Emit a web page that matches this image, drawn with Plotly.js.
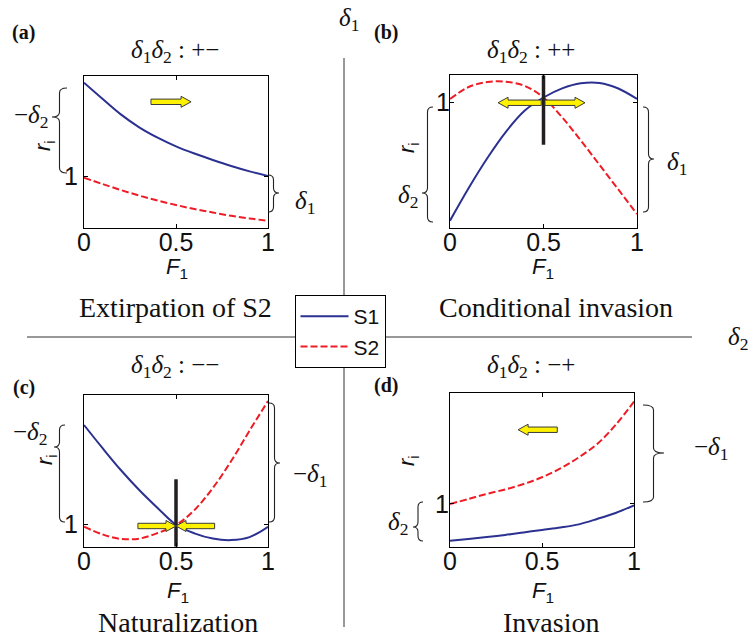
<!DOCTYPE html>
<html>
<head>
<meta charset="utf-8">
<script src="https://cdn.plot.ly/plotly-3.0.1.min.js"></script>
<style>html,body{margin:0;padding:0;background:#fff;}#chart{width:752px;height:638px;}</style>
</head>
<body>
<div id="chart"></div>
<script>
// ---------------- DATA ----------------
const F1 = [0, 0.1, 0.2, 0.3, 0.4, 0.5, 0.6, 0.7, 0.8, 0.9, 1.0];

// (a) delta1 delta2 : +-   Extirpation of S2
const a_S1 = [1.622, 1.515, 1.411, 1.325, 1.256, 1.198, 1.150, 1.107, 1.067, 1.031, 1.000];
const a_S2 = [0.989, 0.947, 0.907, 0.870, 0.837, 0.807, 0.780, 0.757, 0.735, 0.717, 0.702];

// (b) delta1 delta2 : ++   Conditional invasion
const b_S1 = [0.209, 0.427, 0.627, 0.803, 0.943, 1.030, 1.091, 1.125, 1.127, 1.090, 1.020];
const b_S2 = [1.020, 1.100, 1.133, 1.135, 1.107, 1.030, 0.897, 0.743, 0.580, 0.417, 0.253];

// (c) delta1 delta2 : --   Naturalization
const c_S1 = [1.660, 1.507, 1.360, 1.227, 1.107, 0.995, 0.938, 0.903, 0.893, 0.913, 0.982];
const c_S2 = [0.982, 0.931, 0.901, 0.903, 0.940, 0.993, 1.093, 1.240, 1.420, 1.623, 1.820];

// (d) delta1 delta2 : -+   Invasion
const d_S1 = [0.755, 0.767, 0.779, 0.793, 0.810, 0.827, 0.843, 0.864, 0.900, 0.940, 0.991];
const d_S2 = [1.000, 1.033, 1.067, 1.097, 1.133, 1.178, 1.237, 1.311, 1.400, 1.527, 1.683];

// equilibrium markers (vertical bars) at F1 = 0.5
const b_eqX = [0.5, 0.5], b_eqY = [1.178, 0.715];
const c_eqX = [0.5, 0.5], c_eqY = [1.298, 0.849];

// direction arrows: [tail F1, tip F1, r value]
const a_arrows = [[0.364, 0.582, 1.495]];
const b_arrows = [[0.488, 0.257, 0.995], [0.508, 0.722, 0.995]];
const c_arrows = [[0.293, 0.500, 0.987], [0.710, 0.500, 0.987]];
const d_arrows = [[0.583, 0.370, 1.495]];

const xTickVals = [0, 0.5, 1];
const xTickText = ['0', '0.5', '1'];
const yTickVals = [1];
const yTickText = ['1'];

const seriesNames = ['S1', 'S2'];
const panelLetters = ['(a)', '(b)', '(c)', '(d)'];
const signTitles = ['+\u2212', '++', '\u2212\u2212', '\u2212+'];
const outcomeTitles = ['Extirpation of S2', 'Conditional invasion', 'Naturalization', 'Invasion'];

// ---------------- LAYOUT HELPERS ----------------
const W = 752, H = 638;
const px2x = p => p / W;
const px2y = p => 1 - p / H;
const SERIF = 'Liberation Serif, Times New Roman, serif';
const SANS = 'Liberation Sans, Arial, Helvetica, sans-serif';
const BLUE = '#2b3190', RED = '#ee1c25', YEL = '#fff200';

const panels = [
  {ax: '',  xd: [84, 268],  yd: [76, 227.5],    yr: [0.657, 1.667], s1: a_S1, s2: a_S2, arrows: a_arrows, ysd: 0},
  {ax: '2', xd: [450, 637], yd: [75.3, 228],    yr: [0.160, 1.178], s1: b_S1, s2: b_S2, arrows: b_arrows, eq: [b_eqX, b_eqY], ysd: -6},
  {ax: '3', xd: [84, 268],  yd: [395.3, 546.7], yr: [0.849, 1.858], s1: c_S1, s2: c_S2, arrows: c_arrows, eq: [c_eqX, c_eqY], ysd: 0},
  {ax: '4', xd: [450, 634], yd: [393.3, 547.3], yr: [0.711, 1.738], s1: d_S1, s2: d_S2, arrows: d_arrows, ysd: -5}
];

const traces = [];
const layout = {
  width: W, height: H,
  margin: {l: 0, r: 0, t: 0, b: 0},
  paper_bgcolor: '#fff', plot_bgcolor: '#fff',
  showlegend: true,
  legend: {
    x: px2x(294.5), y: px2y(295), xanchor: 'left', yanchor: 'top',
    bgcolor: '#fff', bordercolor: '#000', borderwidth: 1,
    font: {family: SANS, size: 21, color: '#111'},
    itemwidth: 48, tracegroupgap: 0
  },
  shapes: [], annotations: []
};

panels.forEach((p, i) => {
  const xa = 'x' + p.ax, ya = 'y' + p.ax;
  const axisBase = {
    showline: true, linecolor: '#000', linewidth: 1, mirror: 'ticks',
    ticks: 'inside', ticklen: 4, tickcolor: '#000', showgrid: false, zeroline: false,
    tickfont: {family: SANS, size: 25, color: '#111'}, fixedrange: true
  };
  layout['xaxis' + p.ax] = Object.assign({}, axisBase, {
    domain: [px2x(p.xd[0]), px2x(p.xd[1])], range: [0, 1],
    tickvals: xTickVals, ticktext: xTickText, anchor: ya, ticklabelstandoff: -8
  });
  layout['yaxis' + p.ax] = Object.assign({}, axisBase, {
    domain: [px2y(p.yd[1]), px2y(p.yd[0])], range: p.yr,
    tickvals: yTickVals, ticktext: yTickText, anchor: xa, ticklabelstandoff: p.ysd
  });
  traces.push({x: F1, y: p.s1, xaxis: xa, yaxis: ya, mode: 'lines', name: seriesNames[0],
    line: {color: BLUE, width: 2, shape: 'spline', smoothing: 1}, showlegend: i === 0, legendgroup: 's1'});
  traces.push({x: F1, y: p.s2, xaxis: xa, yaxis: ya, mode: 'lines', name: seriesNames[1],
    line: {color: RED, width: 2, dash: '7px,3px', shape: 'spline', smoothing: 1}, showlegend: i === 0, legendgroup: 's2'});
  if (p.eq) {
    traces.push({x: p.eq[0], y: p.eq[1], xaxis: xa, yaxis: ya, mode: 'lines', showlegend: false,
      line: {color: '#231f20', width: 3.5}, hoverinfo: 'skip'});
  }
  // block arrows in data coordinates
  const kx = 1 / (p.xd[1] - p.xd[0]);
  const ky = (p.yr[1] - p.yr[0]) / (p.yd[1] - p.yd[0]);
  p.arrows.forEach(([xt, xp, y]) => {
    const dir = Math.sign(xp - xt);
    const hl = 10 * kx * dir, bh = 2.7 * ky, hh = 5.5 * ky;
    const pts = [[xt, y + bh], [xp - hl, y + bh], [xp - hl, y + hh], [xp, y],
                 [xp - hl, y - hh], [xp - hl, y - bh], [xt, y - bh]];
    layout.shapes.push({type: 'path', xref: xa, yref: ya, layer: 'above',
      path: 'M' + pts.map(q => q[0] + ',' + q[1]).join(' L') + ' Z',
      fillcolor: YEL, line: {color: '#3a3a3a', width: 1}});
  });
});

// quadrant separators
layout.shapes.push({type: 'line', xref: 'paper', yref: 'paper', layer: 'below',
  x0: px2x(344), x1: px2x(344), y0: px2y(58), y1: px2y(627), line: {color: '#333', width: 1}});
layout.shapes.push({type: 'line', xref: 'paper', yref: 'paper', layer: 'below',
  x0: px2x(27), x1: px2x(692), y0: px2y(337), y1: px2y(337), line: {color: '#333', width: 1}});

// curly braces (pixel geometry -> paper)
function brace(xEnd, xTip, yTop, yBot, yTip) {
  const xs = (xEnd + xTip) / 2, r = 5;
  const P = (x, y) => px2x(x).toFixed(5) + ',' + px2y(y).toFixed(5);
  const d = 'M' + P(xEnd, yTop) + ' Q' + P(xs, yTop) + ' ' + P(xs, yTop + r) +
    ' L' + P(xs, yTip - r) + ' Q' + P(xs, yTip) + ' ' + P(xTip, yTip) +
    ' Q' + P(xs, yTip) + ' ' + P(xs, yTip + r) +
    ' L' + P(xs, yBot - r) + ' Q' + P(xs, yBot) + ' ' + P(xEnd, yBot);
  layout.shapes.push({type: 'path', xref: 'paper', yref: 'paper', path: d,
    line: {color: '#222', width: 1.1}});
}
brace(67, 52, 88, 173, 117);      // (a) left  -d2
brace(268, 279, 175, 212, 193);   // (a) right d1
brace(433, 422, 107, 222, 193);   // (b) left  d2
brace(643, 654, 107, 212, 159);   // (b) right d1
brace(65, 54, 425, 522, 447);     // (c) left  -d2
brace(269, 280, 403, 522, 463);   // (c) right -d1
brace(423, 413, 502, 541, 527);   // (d) left  d2
brace(643, 664, 405, 502, 453);   // (d) right -d1

function ann(text, x, y, font, extra) {
  layout.annotations.push(Object.assign({text: text, x: px2x(x), y: px2y(y), xref: 'paper', yref: 'paper',
    showarrow: false, xanchor: 'center', yanchor: 'middle', font: font}, extra || {}));
}
const d = n => '<i>\u03b4</i><sub>' + n + '</sub>';
const serif = (s) => ({family: SERIF, size: s, color: '#111'});
const sans = (s) => ({family: SANS, size: s, color: '#111'});

// panel letters
[[23.5, 33], [386, 33], [23.5, 387], [386, 385]].forEach((q, i) =>
  ann('<b>' + panelLetters[i] + '</b>', q[0], q[1], serif(20)));
// sign titles
[[175, 52], [531, 52], [175, 367], [531, 367]].forEach((q, i) =>
  ann(d(1) + d(2) + ' : ' + signTitles[i], q[0], q[1], serif(25)));
// outcome titles
[[175, 307], [556, 307], [178, 622], [551, 622]].forEach((q, i) =>
  ann(outcomeTitles[i], q[0], q[1], serif(28)));
// axis labels
[[177, 268], [543, 268], [178, 592], [543, 592]].forEach(q =>
  ann('<i>F</i><sub>1</sub>', q[0], q[1], sans(22)));
[[44, 146], [408, 147], [46, 460], [408, 460]].forEach(q =>
  ann('<i>r</i><sub>i</sub>', q[0], q[1], sans(22), {textangle: -90}));
// quadrant axis labels
ann(d(1), 349, 20, serif(25));
ann(d(2), 738, 338, serif(25));
// brace labels
ann('\u2212' + d(2), 31, 116, serif(25));
ann(d(1), 305, 202, serif(25));
ann(d(2), 408, 196, serif(25));
ann(d(1), 677, 163, serif(25));
ann('\u2212' + d(2), 30, 433, serif(25));
ann('\u2212' + d(1), 310, 475, serif(25));
ann(d(2), 398, 523, serif(25));
ann('\u2212' + d(1), 711, 448, serif(25));

Plotly.newPlot('chart', traces, layout, {staticPlot: true, displayModeBar: false});
</script>
</body>
</html>
